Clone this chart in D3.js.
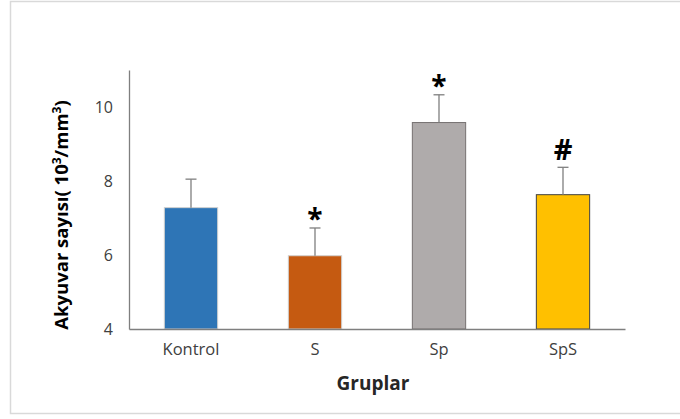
<!DOCTYPE html>
<html><head><meta charset="utf-8">
<script src="https://cdn.jsdelivr.net/npm/d3@7"></script>
<style>body{margin:0;background:#fff}svg{display:block;font-family:"Open Sans",sans-serif}</style>
</head><body><svg id="c" width="680" height="419"></svg>
<script>
const categories = ["Kontrol", "S", "Sp", "SpS"];
const values = [7.28, 5.98, 9.58, 7.63];
const errors = [0.77, 0.75, 0.75, 0.74];
const marks = ["", "*", "*", "#"];
const colors = ["#2e75b6", "#c55a11", "#afabab", "#ffc000"];
const strokes = ["#d0d0d0", "#d0d0d0", "#767171", "#404040"];
const yTicks = [4, 6, 8, 10];

const FF = "'Open Sans',sans-serif";
const svg = d3.select("#c");
svg.append("rect").attr("x", 10.5).attr("y", 1.5).attr("width", 690).attr("height", 412)
  .attr("fill", "#fff").attr("stroke", "#d9d9d9").attr("stroke-width", 1.5);

const m = {l: 129, r: 625, t: 70, b: 329};
const x = d3.scaleBand().domain(categories).range([m.l, m.r]).paddingInner(0.57).paddingOuter(0.285);
const y = d3.scaleLinear().domain([4, 11]).range([m.b, m.t]);

// bars
svg.selectAll(".bar").data(categories).join("rect")
  .attr("x", d => x(d)).attr("width", x.bandwidth())
  .attr("y", (d, i) => y(values[i])).attr("height", (d, i) => y(4) - y(values[i]))
  .attr("fill", (d, i) => colors[i]).attr("stroke", (d, i) => strokes[i]).attr("stroke-width", 1);

// error bars
const eb = svg.append("g").attr("stroke", "#7f7f7f").attr("stroke-width", 1.3);
categories.forEach((c, i) => {
  const cx = x(c) + x.bandwidth() / 2;
  eb.append("line").attr("x1", cx).attr("x2", cx).attr("y1", y(values[i])).attr("y2", y(values[i] + errors[i]));
  eb.append("line").attr("x1", cx - 5.5).attr("x2", cx + 5.5).attr("y1", y(values[i] + errors[i])).attr("y2", y(values[i] + errors[i]));
});

// significance marks
categories.forEach((c, i) => {
  if (!marks[i]) return;
  const cx = x(c) + x.bandwidth() / 2;
  const top = y(values[i] + errors[i]);
  svg.append("text").attr("x", cx).attr("y", marks[i] === "*" ? top + 1 : top - 7)
    .attr("text-anchor", "middle").attr("font-weight", "bold").attr("font-family", FF)
    .attr("font-size", marks[i] === "*" ? 28 : 29).attr("fill", "#000").text(marks[i]);
});

// axes
const yAxis = svg.append("g").attr("transform", `translate(${m.l},0)`)
  .call(d3.axisLeft(y).tickValues(yTicks).tickFormat(d3.format("d")).tickSize(0).tickPadding(16));
yAxis.select(".domain").attr("stroke", "#7f7f7f").attr("stroke-width", 1.3);
yAxis.selectAll("text").attr("font-size", 16).attr("fill", "#404040").attr("font-family", FF);

const xAxis = svg.append("g").attr("transform", `translate(0,${m.b})`)
  .call(d3.axisBottom(x).tickSize(0).tickPadding(14));
xAxis.select(".domain").attr("stroke", "#7f7f7f").attr("stroke-width", 1.3);
xAxis.selectAll("text").attr("font-size", 16.5).attr("fill", "#404040").attr("font-family", FF);

// titles
svg.append("text").attr("x", (m.l + m.r) / 2 - 4).attr("y", 390).attr("text-anchor", "middle")
  .attr("font-size", 19).attr("font-weight", "bold").attr("fill", "#262626").text("Gruplar");

const yt = svg.append("text").attr("transform", "translate(68,215) rotate(-90)").attr("text-anchor", "middle")
  .attr("font-size", 18.5).attr("font-weight", "bold").attr("fill", "#000");
yt.append("tspan").text("Akyuvar sayısı( 10");
yt.append("tspan").attr("font-size", 12).attr("dy", -7).text("3");
yt.append("tspan").attr("dy", 7).text("/mm");
yt.append("tspan").attr("font-size", 12).attr("dy", -7).text("3");
yt.append("tspan").attr("dy", 7).text(")");
</script></body></html>
